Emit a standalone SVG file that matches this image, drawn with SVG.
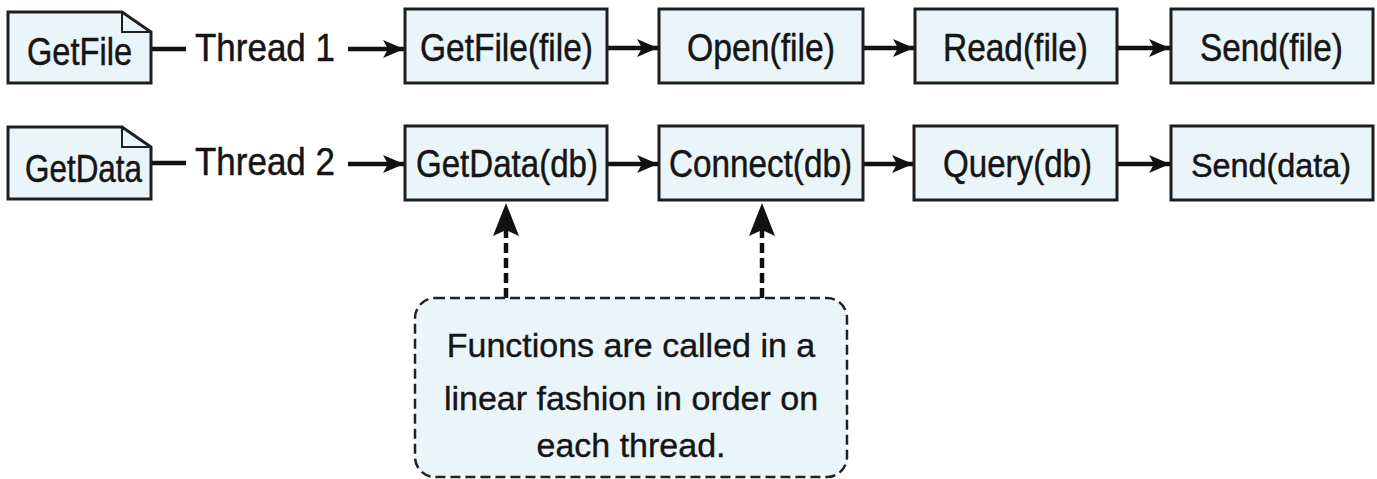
<svg xmlns="http://www.w3.org/2000/svg" width="1377" height="479" viewBox="0 0 1377 479">
<defs>
<style>
.box{fill:#eaf5fa;stroke:#1f1f1f;stroke-width:3}
.t{font-family:"Liberation Sans",Arial,sans-serif;font-size:39px;fill:#151515;stroke:#151515;stroke-width:0.5}
.tn{font-family:"Liberation Sans",Arial,sans-serif;font-size:34px;fill:#151515;stroke:#151515;stroke-width:0.4;text-anchor:middle}
.ln{stroke:#111;stroke-width:4.5;fill:none}
.dl{stroke:#111;stroke-width:4.5;fill:none;stroke-dasharray:10 5}
.note{fill:#eaf5fa;stroke:#222;stroke-width:2.5;stroke-dasharray:10 5}
</style>
<marker id="ah" markerUnits="userSpaceOnUse" markerWidth="22" markerHeight="18" refX="21" refY="9" orient="auto">
<path d="M0,0 L21,9 L0,18 L5,9 Z" fill="#111"/>
</marker>
</defs>
<rect width="1377" height="479" fill="#ffffff"/>

<g id="connectors">
<line class="ln" x1="151" y1="49" x2="186" y2="49"/>
<line class="ln" x1="348" y1="49" x2="404" y2="49" marker-end="url(#ah)"/>
<line class="ln" x1="607" y1="48" x2="658" y2="48" marker-end="url(#ah)"/>
<line class="ln" x1="863" y1="48" x2="914" y2="48" marker-end="url(#ah)"/>
<line class="ln" x1="1117" y1="48" x2="1170" y2="48" marker-end="url(#ah)"/>
<line class="ln" x1="151" y1="163" x2="186" y2="163"/>
<line class="ln" x1="348" y1="164" x2="404" y2="164" marker-end="url(#ah)"/>
<line class="ln" x1="607" y1="164" x2="658" y2="164" marker-end="url(#ah)"/>
<line class="ln" x1="863" y1="164" x2="913" y2="164" marker-end="url(#ah)"/>
<line class="ln" x1="1117" y1="164" x2="1170" y2="164" marker-end="url(#ah)"/>
<line class="dl" x1="506" y1="298" x2="506" y2="230"/>
<path d="M506,203 L519,236 L506,230 L493,236 Z" fill="#111"/>
<line class="dl" x1="762" y1="298" x2="762" y2="230"/>
<path d="M762,203 L775,236 L762,230 L749,236 Z" fill="#111"/>
</g>

<g id="doc-getfile">
<path class="box" d="M8,12 H122 L151,32 V83 H8 Z"/>
<path d="M122,12 V32 H151" fill="none" stroke="#1f1f1f" stroke-width="2"/>
<text class="t" x="27" y="65" textLength="105" lengthAdjust="spacingAndGlyphs">GetFile</text>
</g>
<g id="label-thread1">
<text class="t" x="195" y="61" textLength="140" lengthAdjust="spacingAndGlyphs">Thread 1</text>
</g>
<g id="n-getfile">
<rect class="box" x="405" y="9" width="202" height="74"/>
<text class="t" x="420" y="61" textLength="173" lengthAdjust="spacingAndGlyphs">GetFile(file)</text>
</g>
<g id="n-open">
<rect class="box" x="659" y="9" width="204" height="74"/>
<text class="t" x="687" y="61" textLength="148" lengthAdjust="spacingAndGlyphs">Open(file)</text>
</g>
<g id="n-read">
<rect class="box" x="915" y="9" width="202" height="74"/>
<text class="t" x="943" y="61" textLength="145" lengthAdjust="spacingAndGlyphs">Read(file)</text>
</g>
<g id="n-sendfile">
<rect class="box" x="1171" y="9" width="202" height="74"/>
<text class="t" x="1200" y="61" textLength="143" lengthAdjust="spacingAndGlyphs">Send(file)</text>
</g>

<g id="doc-getdata">
<path class="box" d="M8,127 H122 L151,147 V199 H8 Z"/>
<path d="M122,127 V147 H151" fill="none" stroke="#1f1f1f" stroke-width="2"/>
<text class="t" x="25" y="182" textLength="117" lengthAdjust="spacingAndGlyphs">GetData</text>
</g>
<g id="label-thread2">
<text class="t" x="195" y="175" textLength="140" lengthAdjust="spacingAndGlyphs">Thread 2</text>
</g>
<g id="n-getdata">
<rect class="box" x="405" y="126" width="202" height="74"/>
<text class="t" x="416" y="177" textLength="182" lengthAdjust="spacingAndGlyphs">GetData(db)</text>
</g>
<g id="n-connect">
<rect class="box" x="659" y="126" width="204" height="74"/>
<text class="t" x="669" y="177" textLength="183" lengthAdjust="spacingAndGlyphs">Connect(db)</text>
</g>
<g id="n-query">
<rect class="box" x="914" y="126" width="203" height="74"/>
<text class="t" x="943" y="177" textLength="149" lengthAdjust="spacingAndGlyphs">Query(db)</text>
</g>
<g id="n-senddata">
<rect class="box" x="1171" y="126" width="202" height="74"/>
<text class="t" x="1191" y="177" style="font-size:34px" textLength="160" lengthAdjust="spacingAndGlyphs">Send(data)</text>
</g>

<g id="note">
<rect class="note" x="415" y="298" width="432" height="179" rx="20" ry="20"/>
<text class="tn" x="631" y="357">Functions are called in a</text>
<text class="tn" x="631" y="410">linear fashion in order on</text>
<text class="tn" x="631" y="457">each thread.</text>
</g>
</svg>
